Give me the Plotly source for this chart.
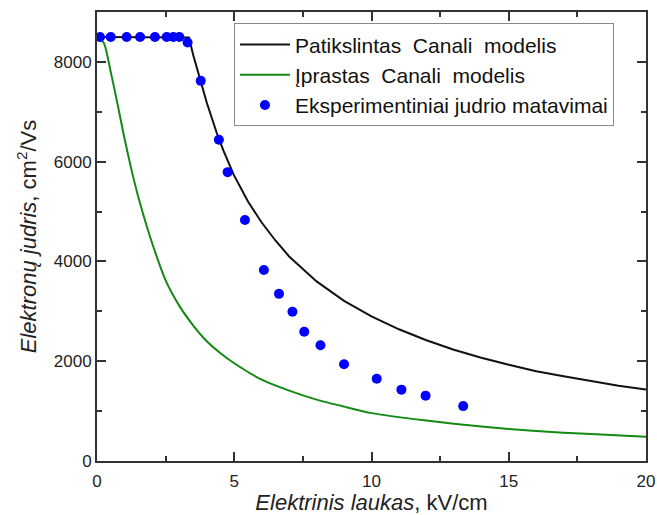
import plotly.graph_objects as go

# Refined Canali model (black)
refined_field = [0, 1, 2, 3, 3.35, 3.5, 3.75, 4, 4.36, 4.6, 4.97, 5.5, 6.0, 6.5, 7.0,
                 7.5, 8, 9, 10, 11, 12, 13, 14, 15, 16, 17, 18, 19, 20]
refined_mobility = [8500, 8500, 8500, 8500, 8490, 8150, 7660, 7180, 6580, 6230, 5750,
                    5200, 4780, 4420, 4100, 3840, 3600, 3210, 2900, 2640, 2420, 2230,
                    2070, 1930, 1800, 1700, 1600, 1510, 1435]

# Standard Canali model (green)
standard_field = [0, 0.25, 0.5, 0.75, 1.0, 1.25, 1.5, 1.75, 2.0, 2.5, 3.0, 3.5, 4.0,
                  4.5, 5.0, 6.0, 7.0, 8.0, 9.0, 10.0, 12.0, 14.0, 16.0, 18.0, 20.0]
standard_mobility = [8500, 8380, 7800, 7150, 6470, 5850, 5300, 4820, 4380, 3620, 3110,
                     2720, 2400, 2160, 1960, 1630, 1410, 1230, 1090, 960, 810, 690, 600,
                     540, 487]

# Measured mobility
exp_field = [0.11, 0.5, 1.08, 1.57, 2.11, 2.54, 2.78, 3.0, 3.3, 3.78, 4.44, 4.76, 5.39,
             6.08, 6.63, 7.12, 7.55, 8.14, 9.0, 10.19, 11.09, 11.97, 13.34]
exp_mobility = [8500, 8500, 8500, 8500, 8500, 8500, 8500, 8500, 8390, 7620, 6440, 5790,
                4830, 3830, 3350, 2990, 2590, 2320, 1940, 1650, 1430, 1310, 1100]

x_ticks = [0, 5, 10, 15, 20]
y_ticks = [0, 2000, 4000, 6000, 8000]

FONT = "Liberation Sans, Arial, sans-serif"
NB = "\u00a0"

fig = go.Figure()
fig.add_trace(go.Scatter(
    x=refined_field, y=refined_mobility, mode="lines",
    name=f"Patikslintas{NB}{NB}Canali{NB}{NB}modelis",
    line=dict(color="#111111", width=2),
))
fig.add_trace(go.Scatter(
    x=standard_field, y=standard_mobility, mode="lines",
    name=f"Įprastas{NB}{NB}Canali{NB}{NB}modelis",
    line=dict(color="#138a13", width=2, shape="spline", smoothing=0.6),
))
fig.add_trace(go.Scatter(
    x=exp_field, y=exp_mobility, mode="markers",
    name="Eksperimentiniai judrio matavimai",
    marker=dict(color="#0000ff", size=10),
))

axis_common = dict(
    showline=True, linecolor="#333333", linewidth=2, mirror="allticks",
    ticks="inside", ticklen=9, tickwidth=2, tickcolor="#333333",
    showgrid=False, zeroline=False, automargin=False,
    tickfont=dict(family=FONT, size=17, color="#222222"),
)

fig.update_xaxes(
    range=[0, 20], tickvals=x_ticks, ticktext=[str(v) for v in x_ticks],
    minor=dict(ticks="inside", ticklen=5, tickwidth=2, tickcolor="#333333", dtick=2.5),
    title=dict(text="<i>Elektrinis laukas</i>, kV/cm",
               font=dict(family=FONT, size=22, color="#222222"), standoff=5),
    ticklabelstandoff=4,
    **axis_common,
)
fig.update_yaxes(
    range=[0, 9000], tickvals=y_ticks, ticktext=[str(v) for v in y_ticks],
    minor=dict(ticks="inside", ticklen=5, tickwidth=2, tickcolor="#333333", dtick=1000),
    title=dict(text="<i>Elektronų judris</i>, cm<sup>2</sup>/Vs",
               font=dict(family=FONT, size=22, color="#222222"), standoff=11),
    **axis_common,
)

fig.update_layout(
    width=657, height=515,
    margin=dict(l=97, r=11, t=12, b=54),
    paper_bgcolor="white", plot_bgcolor="white",
    showlegend=True,
    legend=dict(
        x=0.2495, y=0.975, xanchor="left", yanchor="top",
        bgcolor="white", bordercolor="#888888", borderwidth=1,
        font=dict(family=FONT, size=21, color="#111111"),
        itemwidth=50, tracegroupgap=0,
    ),
)

fig.write_html("out.html")
